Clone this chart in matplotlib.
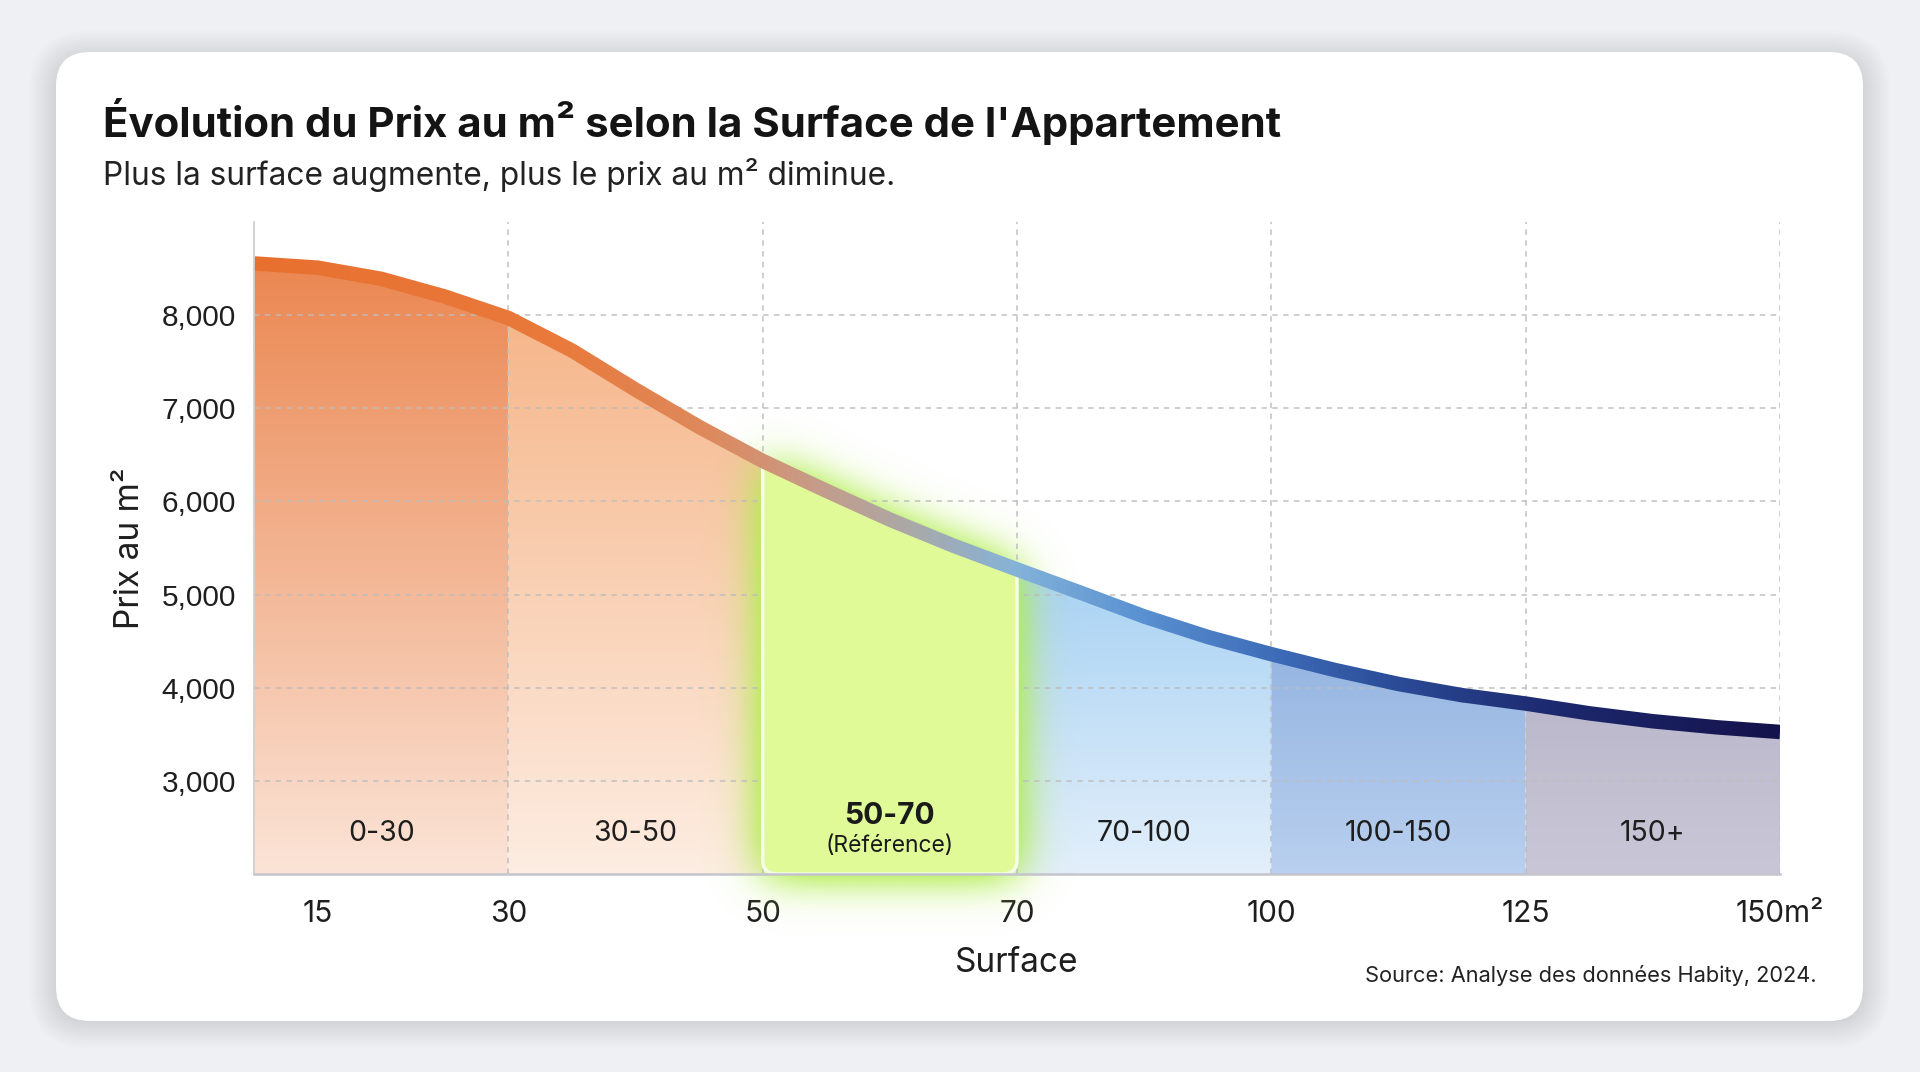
import numpy as np
import matplotlib
matplotlib.use("Agg")
import matplotlib.pyplot as plt
from matplotlib.patches import FancyBboxPatch, Polygon
from matplotlib.transforms import IdentityTransform
from matplotlib.colors import LinearSegmentedColormap, to_rgba

# --- DONNEES ---
band_labels = ["0-30", "30-50", "50-70", "70-100", "100-150", "150+"]
surface_ticks = ["15", "30", "50", "70", "100", "125", "150m²"]
tick_pos = [0.25, 1, 2, 3, 4, 5, 6]
curve_x = [0, 0.25, 0.5, 0.75, 1, 1.25, 1.5, 1.75, 2, 2.25, 2.5, 2.75, 3,
           3.25, 3.5, 3.75, 4, 4.25, 4.5, 4.75, 5, 5.25, 5.5, 5.75, 6]
price = [8555, 8510, 8390, 8200, 7970, 7620, 7200, 6800, 6435, 6115, 5805, 5525, 5270,
         5020, 4765, 4545, 4360, 4190, 4040, 3920, 3830, 3725, 3640, 3575, 3525]
y_ticks = [3000, 4000, 5000, 6000, 7000, 8000]

band_top = ["#eb8751", "#f6b68a", "#e0fa98", "#a8d2f3", "#95b5e1", "#bcb8cc"]
band_bottom = ["#fbe4d7", "#fdede2", "#e0fa98", "#e3effb", "#b9d0ef", "#c9c7d7"]
line_colors = [(0, "#e8702f"), (0.2, "#e97a3c"), (0.3, "#dd8a5e"), (0.36, "#c99a85"),
               (0.43, "#aaa9a8"), (0.5, "#84b3d9"), (0.58, "#5a92d2"), (0.67, "#3e6cb8"),
               (0.75, "#2b4b97"), (0.85, "#1d2a70"), (1.0, "#15124b")]

YMIN, YMAX = 2000, 9000
LINE_W = 14.5  # épaisseur de la courbe en pixels

fig = plt.figure(figsize=(19.2, 10.72), dpi=100)
fig.patch.set_facecolor("#eff0f4")

# --- CARTE (fond blanc + ombre) ---
bg = fig.add_axes([0, 0, 1, 1])
bg.set_xlim(0, 1920)
bg.set_ylim(1072, 0)
bg.axis("off")
for k in range(14):
    pad = 1 + k * 2.0
    bg.add_patch(FancyBboxPatch((56 - pad, 58 - pad), 1807 + 2 * pad, 963 + 2 * pad,
                                boxstyle=f"round,pad=0,rounding_size={34 + pad}",
                                fc="#4a4a66", ec="none", alpha=0.011))
bg.add_patch(FancyBboxPatch((56, 52), 1807, 969, boxstyle="round,pad=0,rounding_size=34",
                            fc="white", ec="none"))

# --- TEXTES ---
fig.text(103 / 1920, 1 - 137 / 1072, "Évolution du Prix au m² selon la Surface de l'Appartement",
         fontsize=30.2, fontweight="bold", family="Inter", color="#141414", va="baseline")
fig.text(103 / 1920, 1 - 185 / 1072, "Plus la surface augmente, plus le prix au m² diminue.",
         fontsize=22.8, family="Inter", color="#222222", va="baseline")
fig.text(1817 / 1920, 1 - 975 / 1072, "Source: Analyse des données Habity, 2024.",
         fontsize=15.7, family="Inter", color="#222222", ha="right", va="center")

# --- AXES ---
ax = fig.add_axes([254 / 1920, 1 - 874 / 1072, 1526 / 1920, 652 / 1072])
ax.patch.set_alpha(0)
ax.set_xlim(0, 6)
ax.set_ylim(YMIN, YMAX)

# remplissages en dégradé par tranche
for i in range(6):
    if i == 2:
        continue
    pts = [(x, p) for x, p in zip(curve_x, price) if i <= x <= i + 1]
    poly = Polygon([(i, YMIN)] + pts + [(i + 1, YMIN)], closed=True,
                   transform=ax.transData, fc="none", ec="none")
    top = max(p for _, p in pts)
    c0 = np.array(to_rgba(band_top[i]))
    c1 = np.array(to_rgba(band_bottom[i]))
    t = np.linspace(0, 1, 200)[:, None]
    grad = c0 * (1 - t) + c1 * t
    grad = np.repeat(grad[:, None, :], 2, axis=1)
    im = ax.imshow(grad, extent=[i, i + 1, YMIN, top], aspect="auto",
                   interpolation="bilinear", zorder=1)
    im.set_clip_path(poly)

# halo vert autour de la tranche de référence
gx = np.linspace(1.2, 3.8, 340)
gy = np.linspace(400, 8800, 440)
GX, GY = np.meshgrid(gx, gy)
mask = ((GX >= 2) & (GX <= 3) & (GY >= YMIN) &
        (GY <= np.interp(GX, curve_x, price))).astype(float)


def kernel(coords, sigma):
    d = coords[:, None] - coords[None, :]
    k = np.exp(-0.5 * (d / sigma) ** 2)
    return k / k.sum(axis=1, keepdims=True)


blur = kernel(gy, 240) @ mask @ kernel(gx, 0.09).T
glow = np.zeros(blur.shape + (4,))
glow[..., :3] = to_rgba("#b2ee50")[:3]
glow[..., 3] = np.clip(blur * 1.7, 0, 0.9)
ax.imshow(glow, extent=[gx[0], gx[-1], gy[0], gy[-1]], origin="lower", aspect="auto",
          interpolation="bilinear", zorder=2, clip_on=False)

# grille pointillée
for y in y_ticks:
    ax.axhline(y, color="#bdbdbd", lw=1.3, ls=(0, (3, 3)), zorder=3, alpha=0.8)
for x in range(1, 7):
    ax.axvline(x, color="#bdbdbd", lw=1.3, ls=(0, (3, 3)), zorder=3, alpha=0.8)

# boîte de référence 50-70
clip_pts = [(1.95, 1500), (1.95, price[8])]
clip_pts += [(x, p) for x, p in zip(curve_x, price) if 2 <= x <= 3]
clip_pts += [(3.05, price[12]), (3.05, 1500)]
clip_poly = Polygon(clip_pts, closed=True, transform=ax.transData, fc="none", ec="none")
box = FancyBboxPatch((2, YMIN), 1, 7000, boxstyle="round,pad=0,rounding_size=0.06",
                     mutation_aspect=2600, fc="#e0fa98", ec="#f6fde6", lw=2.5, zorder=4)
ax.add_patch(box)
box.set_clip_path(clip_poly)

# courbe : ruban épais (en pixels) rempli d'un dégradé horizontal
disp = ax.transData.transform(np.column_stack([curve_x, price]))
tang = np.gradient(disp, axis=0)
tang /= np.linalg.norm(tang, axis=1, keepdims=True)
norm = np.column_stack([-tang[:, 1], tang[:, 0]])
ribbon = np.vstack([disp + norm * LINE_W / 2, (disp - norm * LINE_W / 2)[::-1]])
ribbon_patch = Polygon(ribbon, closed=True, transform=IdentityTransform(), fc="none", ec="none")
cmap = LinearSegmentedColormap.from_list("prix", line_colors)
hgrad = cmap(np.linspace(0, 1, 600))[None, :, :]
hgrad = np.repeat(hgrad, 2, axis=0)
line_im = ax.imshow(hgrad, extent=[0, 6, YMIN, YMAX], aspect="auto",
                    interpolation="bilinear", zorder=6)
line_im.set_clip_path(ribbon_patch)

# étiquettes des tranches
for i, lab in enumerate(band_labels):
    if i == 2:
        ax.text(i + 0.5, 2620, lab, ha="center", va="center", fontsize=21.5,
                fontweight="bold", family="Inter", color="#1a1a1a", zorder=7)
        ax.text(i + 0.5, 2300, "(Référence)", ha="center", va="center", fontsize=16.5,
                family="Inter", color="#1a1a1a", zorder=7)
    else:
        ax.text(i + 0.5, 2430, lab, ha="center", va="center", fontsize=20.5,
                family="Inter", color="#1e1e1e", zorder=7)

ax.set_xlim(0, 6)
ax.set_ylim(YMIN, YMAX)
ax.set_yticks(y_ticks, [f"{v:,}" for v in y_ticks])
ax.set_xticks(tick_pos, surface_ticks)
ax.tick_params(axis="y", length=0, pad=13, labelsize=21.5, labelcolor="#1e1e1e")
ax.tick_params(axis="x", length=0, pad=19, labelsize=21.5, labelcolor="#1e1e1e")
for lab in ax.get_yticklabels():
    lab.set_family("Liberation Sans")
for lab in ax.get_xticklabels():
    lab.set_family("Inter")

for s in ["top", "right"]:
    ax.spines[s].set_visible(False)
ax.spines["left"].set_color("#cfcfd2")
ax.spines["left"].set_linewidth(1.3)
ax.spines["bottom"].set_color("#c4c4cc")
ax.spines["bottom"].set_linewidth(1.8)
ax.spines["left"].set_zorder(8)
ax.spines["bottom"].set_zorder(8)

ax.set_xlabel("Surface", fontsize=24, family="Inter", color="#1e1e1e")
ax.xaxis.set_label_coords(0.5, -0.112)
ax.set_ylabel("Prix au m²", fontsize=24, family="Inter", color="#1e1e1e")
ax.yaxis.set_label_coords(-0.0705, 0.5)

fig.savefig("out.png", dpi=100, facecolor=fig.get_facecolor())
